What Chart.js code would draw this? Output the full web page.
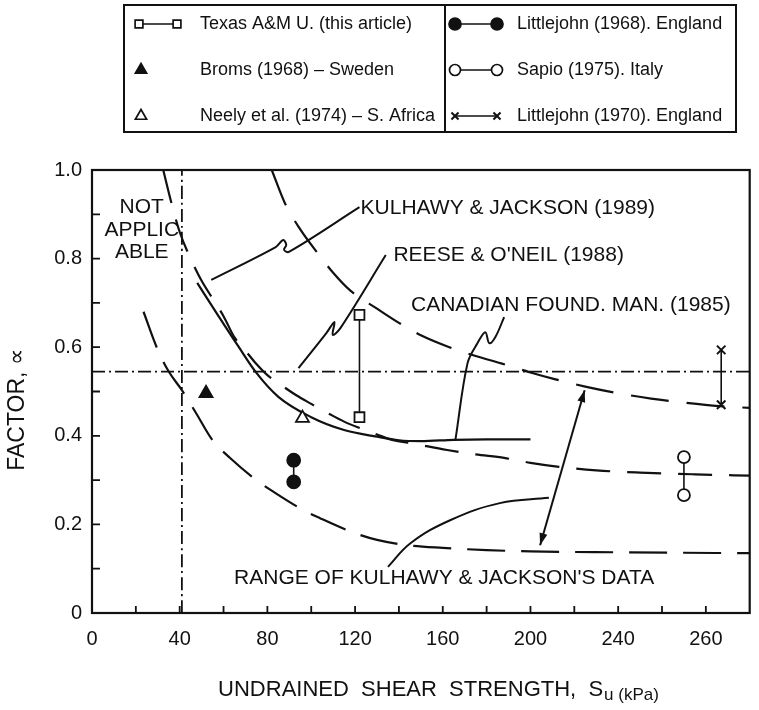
<!DOCTYPE html>
<html>
<head>
<meta charset="utf-8">
<script src="https://cdn.jsdelivr.net/npm/chart.js@4.4.1/dist/chart.umd.min.js"></script>
<style>
  html, body { margin: 0; padding: 0; background: #fff; }
  #wrap { width: 759px; height: 710px; position: relative; }
</style>
</head>
<body>
<div id="wrap"><canvas id="c" width="759" height="710"></canvas></div>
<script>
const FONT = '"Liberation Sans", Arial, Helvetica, sans-serif';
const INK = '#111';

// ---- axis ticks ----
const xTickValues = [0, 40, 80, 120, 160, 200, 240, 280];
const xTickLabels = ['0', '40', '80', '120', '160', '200', '240', '260'];
const yTickValues = [0, 0.2, 0.4, 0.6, 0.8, 1.0];
const yTickLabels = ['0', '0.2', '0.4', '0.6', '0.8', '1.0'];

// ---- design curves: [Su (kPa), alpha] ----
const upperBound = [[82,1.0],[88,0.925],[95,0.866],[103,0.812],[110,0.768],[118,0.727],[130,0.687],[140,0.655],[150,0.627],[163,0.600],[175,0.580],[187,0.563],[200,0.543],[211,0.528],[225,0.511],[240,0.496],[255,0.484],[270,0.475],[286,0.467],[300,0.463]];
const kulhawyJackson = [[32.5,1.0],[36,0.93],[40,0.86],[45,0.80],[50,0.75],[55,0.71],[60,0.67],[65,0.622],[70,0.592],[75,0.562],[80,0.537],[87,0.512],[93,0.492],[100,0.472],[108,0.45],[115,0.432],[123,0.416],[130,0.403],[136,0.392],[147,0.382],[162,0.368],[175,0.358],[188,0.35],[200,0.339],[213,0.33],[230,0.322],[250,0.317],[275,0.313],[300,0.31]];
const canadianManual = [[48,0.745],[58,0.668],[67,0.60],[75,0.542],[85,0.488],[100,0.442],[115,0.413],[130,0.398],[140,0.39],[150,0.388],[165,0.391],[180,0.392],[200,0.392]];
const lowerBound = [[23.5,0.68],[30,0.594],[35,0.545],[41,0.503],[47.5,0.451],[55,0.39],[63,0.35],[75,0.30],[83,0.273],[96.5,0.232],[104,0.214],[120,0.18],[130,0.165],[144,0.153],[160,0.147],[180,0.142],[200,0.139],[240,0.137],[300,0.135]];
const reeseONeil = [[0,0.545],[300,0.545]];
const notApplicableLimit = [[41,0],[41,1]];

// ---- measured alpha values ----
const texasAM = [[122,0.673],[122,0.442]];
const broms = [[52,0.496]];
const neely = [[96,0.44]];
const littlejohn1968 = [[92,0.345],[92,0.296]];
const sapio = [[270,0.352],[270,0.266]];
const littlejohn1970 = [[287,0.594],[287,0.47]];

// ---- label leaders and the range arrow ----
const kulhawyLeader = [[54.4,0.752],[83.8,0.826],[87.2,0.842],[88.6,0.831],[87.6,0.820],[89.8,0.815],[122,0.916]];
const reeseLeader = [[94.2,0.553],[106.9,0.632],[110.6,0.657],[109.8,0.628],[113.3,0.643],[134,0.808]];
const canadianLeader = [[165.8,0.392],[171.3,0.564],[175.8,0.609],[179.4,0.634],[181.2,0.609],[184,0.623],[188,0.668]];
const rangeLeader = [[135,0.104],[145.4,0.158],[163.6,0.21],[186,0.248],[208.4,0.26]];
const rangeArrow = [[204.4,0.153],[224.7,0.503]];

// ---- annotation texts, anchored in data units ----
const notApplicableText = ['NOT', 'APPLIC', 'ABLE'];
const curveLabels = [
  { text: 'KULHAWY & JACKSON (1989)', at: [122.5, 0.913] },
  { text: "REESE & O'NEIL (1988)", at: [137.5, 0.808] },
  { text: 'CANADIAN FOUND. MAN. (1985)', at: [145.5, 0.695] },
  { text: "RANGE OF KULHAWY & JACKSON'S DATA", at: [64.8, 0.079] }
];

// ---- legend entries ----
const legendLeft = ['Texas A&M U. (this article)', 'Broms (1968) \u2013 Sweden', 'Neely et al. (1974) \u2013 S. Africa'];
const legendRight = ['Littlejohn (1968). England', 'Sapio (1975). Italy', 'Littlejohn (1970). England'];

const xTitle = 'UNDRAINED  SHEAR  STRENGTH,  S';
const xTitleSub = 'u';
const xTitleUnit = ' (kPa)';
const yTitle = 'FACTOR, \u221D';

const toXY = a => a.map(([x, y]) => ({ x, y }));

function curve(data, dash, extra) {
  return Object.assign({
    data: toXY(data), showLine: true, borderColor: INK, borderWidth: 2.2,
    borderDash: dash, pointRadius: 0, pointHoverRadius: 0, fill: false,
    cubicInterpolationMode: 'monotone'
  }, extra || {});
}
function leader(data, tension) {
  return {
    data: toXY(data), showLine: true, borderColor: INK, borderWidth: 2,
    pointRadius: 0, pointHoverRadius: 0, fill: false, tension: tension
  };
}
function markers(data, style, radius, filled, extra) {
  return Object.assign({
    data: toXY(data), showLine: true, borderColor: INK, borderWidth: 1.6,
    pointStyle: style, pointRadius: radius, pointHoverRadius: radius,
    pointBorderColor: INK, pointBorderWidth: 1.8,
    pointBackgroundColor: filled ? INK : '#fff', fill: false
  }, extra || {});
}

const datasets = [
  markers(texasAM, 'rect', 7, false),
  markers(broms, 'triangle', 7.5, true),
  markers(neely, 'triangle', 7.5, false),
  markers(littlejohn1968, 'circle', 6.5, true),
  markers(sapio, 'circle', 6, false),
  markers(littlejohn1970, 'crossRot', 6, false, { pointBorderWidth: 2 }),
  curve(upperBound, [38, 18]),
  curve(kulhawyJackson, [34, 17]),
  curve(canadianManual, []),
  curve(lowerBound, [38, 16]),
  curve(reeseONeil, [13, 4, 2, 4], { borderWidth: 1.8 }),
  curve(notApplicableLimit, [13, 4, 2, 4], { borderWidth: 1.8 }),
  leader(kulhawyLeader, 0.35),
  leader(reeseLeader, 0.35),
  leader(canadianLeader, 0.35),
  leader(rangeLeader, 0.4),
  leader(rangeArrow, 0)
];

function drawArrowHead(ctx, fx, fy, tx, ty) {
  const ang = Math.atan2(ty - fy, tx - fx);
  const len = 12, half = 4;
  ctx.beginPath();
  ctx.moveTo(tx, ty);
  ctx.lineTo(tx - len * Math.cos(ang) + half * Math.sin(ang), ty - len * Math.sin(ang) - half * Math.cos(ang));
  ctx.lineTo(tx - len * Math.cos(ang) - half * Math.sin(ang), ty - len * Math.sin(ang) + half * Math.cos(ang));
  ctx.closePath();
  ctx.fill();
}

const figureDecor = {
  id: 'figureDecor',
  afterDraw(chart) {
    const { ctx, chartArea: a, scales } = chart;
    const xs = scales.x, ys = scales.y;
    ctx.save();
    ctx.strokeStyle = INK;
    ctx.fillStyle = INK;

    // frame
    ctx.lineWidth = 2.2;
    ctx.strokeRect(a.left, a.top, a.right - a.left, a.bottom - a.top);

    // inward tick marks
    ctx.lineWidth = 1.8;
    ctx.beginPath();
    for (let v = 20; v <= 280; v += 20) {
      const px = xs.getPixelForValue(v);
      ctx.moveTo(px, a.bottom); ctx.lineTo(px, a.bottom - 7);
    }
    for (let i = 1; i < 10; i++) {
      const py = ys.getPixelForValue(i / 10);
      ctx.moveTo(a.left, py); ctx.lineTo(a.left + 8, py);
    }
    ctx.stroke();

    // arrowheads of the range arrow
    const p0 = [xs.getPixelForValue(rangeArrow[0][0]), ys.getPixelForValue(rangeArrow[0][1])];
    const p1 = [xs.getPixelForValue(rangeArrow[1][0]), ys.getPixelForValue(rangeArrow[1][1])];
    drawArrowHead(ctx, p0[0], p0[1], p1[0], p1[1]);
    drawArrowHead(ctx, p1[0], p1[1], p0[0], p0[1]);

    // annotations
    ctx.font = '21px ' + FONT;
    ctx.textBaseline = 'middle';
    ctx.textAlign = 'center';
    const naX = xs.getPixelForValue(22.7);
    notApplicableText.forEach((t, i) => {
      ctx.fillText(t, naX, ys.getPixelForValue(0.916) + i * 22.5);
    });
    ctx.textAlign = 'left';
    curveLabels.forEach(l => {
      ctx.fillText(l.text, xs.getPixelForValue(l.at[0]), ys.getPixelForValue(l.at[1]));
    });

    // axis titles
    const mainFont = '22px ' + FONT;
    const subFont = '17px ' + FONT;
    ctx.font = mainFont;
    const w1 = ctx.measureText(xTitle).width;
    ctx.font = subFont;
    const w2 = ctx.measureText(xTitleSub + xTitleUnit).width;
    const tx = 438 - (w1 + w2) / 2;
    const ty = 690;
    ctx.font = mainFont;
    ctx.fillText(xTitle, tx, ty);
    ctx.font = subFont;
    ctx.fillText(xTitleSub + xTitleUnit, tx + w1 + 1, ty + 5);

    ctx.save();
    ctx.translate(18, 410);
    ctx.rotate(-Math.PI / 2);
    ctx.textAlign = 'center';
    ctx.font = '23px ' + FONT;
    ctx.fillText(yTitle, 0, 0);
    ctx.restore();

    // legend
    const L = { left: 124, top: 5, right: 736, bottom: 132, split: 445 };
    ctx.lineWidth = 2;
    ctx.strokeRect(L.left, L.top, L.right - L.left, L.bottom - L.top);
    ctx.beginPath();
    ctx.moveTo(L.split, L.top); ctx.lineTo(L.split, L.bottom);
    ctx.stroke();
    const rows = [24, 70, 116];
    const sym = (style, r, filled, x, y, bw) => {
      ctx.fillStyle = filled ? INK : '#fff';
      ctx.strokeStyle = INK;
      ctx.lineWidth = bw || 1.7;
      Chart.helpers.drawPoint(ctx, { pointStyle: style, radius: r, borderWidth: bw || 1.7, rotation: 0 }, x, y);
    };
    const pair = (style, r, filled, x1, x2, y, bw) => {
      ctx.strokeStyle = INK;
      ctx.lineWidth = 1.7;
      ctx.beginPath(); ctx.moveTo(x1, y); ctx.lineTo(x2, y); ctx.stroke();
      sym(style, r, filled, x1, y, bw);
      sym(style, r, filled, x2, y, bw);
    };
    pair('rect', 5.5, false, 139, 177, rows[0]);
    sym('triangle', 6.5, true, 141, rows[1]);
    sym('triangle', 6.5, false, 141, rows[2]);
    pair('circle', 6, true, 455, 497, rows[0]);
    pair('circle', 5.5, false, 455, 497, rows[1]);
    pair('crossRot', 5, false, 455, 497, rows[2], 2);

    ctx.fillStyle = INK;
    ctx.font = '18px ' + FONT;
    ctx.textAlign = 'left';
    ctx.textBaseline = 'middle';
    legendLeft.forEach((t, i) => ctx.fillText(t, 200, rows[i]));
    legendRight.forEach((t, i) => ctx.fillText(t, 517, rows[i]));
    ctx.restore();
  }
};

new Chart(document.getElementById('c'), {
  type: 'scatter',
  data: { datasets },
  options: {
    responsive: false,
    animation: false,
    devicePixelRatio: 1,
    layout: { padding: { top: 170, right: 5, bottom: 0, left: 0 } },
    plugins: { legend: { display: false }, tooltip: { enabled: false } },
    scales: {
      x: {
        type: 'linear', min: 0, max: 300,
        afterBuildTicks: s => { s.ticks = xTickValues.map(v => ({ value: v })); },
        afterFit: s => { s.height = 97; },
        grid: { display: false, drawTicks: false },
        border: { display: false },
        ticks: {
          autoSkip: false, maxRotation: 0, padding: 14, color: INK,
          font: { family: FONT, size: 20 },
          callback: v => { const i = xTickValues.indexOf(v); return i >= 0 ? xTickLabels[i] : ''; }
        }
      },
      y: {
        type: 'linear', min: 0, max: 1,
        afterBuildTicks: s => { s.ticks = yTickValues.map(v => ({ value: v })); },
        afterFit: s => { s.width = 92; },
        grid: { display: false, drawTicks: false },
        border: { display: false },
        ticks: {
          padding: 10, color: INK,
          font: { family: FONT, size: 20 },
          callback: v => { const i = yTickValues.findIndex(t => Math.abs(t - v) < 1e-9); return i >= 0 ? yTickLabels[i] : ''; }
        }
      }
    }
  },
  plugins: [figureDecor]
});
</script>
</body>
</html>
